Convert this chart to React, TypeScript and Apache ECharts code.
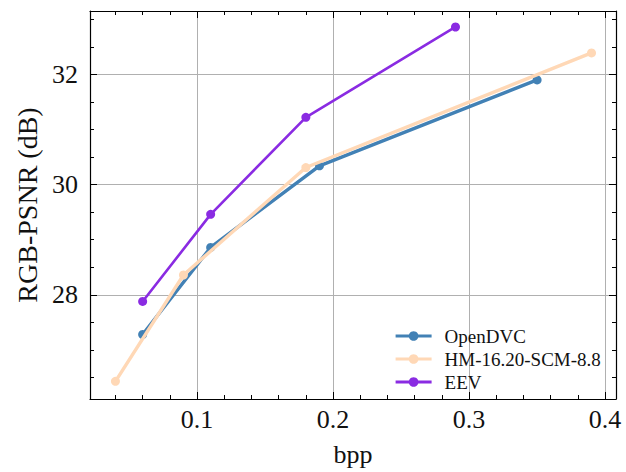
import React, { useEffect, useRef } from "react";
import * as echarts from "echarts";

const seriesNames = ["OpenDVC", "HM-16.20-SCM-8.8", "EEV"];
const bppOpenDVC = [0.06, 0.11, 0.19, 0.35];
const psnrOpenDVC = [27.28, 28.86, 30.34, 31.9];
const bppHM = [0.04, 0.09, 0.18, 0.39];
const psnrHM = [26.43, 28.36, 30.31, 32.39];
const bppEEV = [0.06, 0.11, 0.18, 0.29];
const psnrEEV = [27.88, 29.46, 31.22, 32.86];

const xMajorTicks = [0.1, 0.2, 0.3, 0.4];
const xMinorTicks = [0.04, 0.06, 0.08, 0.12, 0.14, 0.16, 0.18, 0.22, 0.24, 0.26, 0.28, 0.32, 0.34, 0.36, 0.38];
const yMajorTicks = [28, 30, 32];
const yMinorTicks = [26.5, 27, 27.5, 28.5, 29, 29.5, 30.5, 31, 31.5, 32.5, 33];

const X_MIN = 0.0213;
const X_MAX = 0.408;
const Y_MIN = 26.11;
const Y_MAX = 33.15;

const FONT = "Liberation Serif";
const colors = ["#4281b5", "#ffd8b6", "#8a2be2"];

function pair(xs: number[], ys: number[]) {
  return xs.map((x, i) => [x, ys[i]]);
}

export default function App() {
  const ref = useRef<HTMLDivElement>(null);
  useEffect(() => {
    if (!ref.current) return;
    const chart = echarts.init(ref.current, null, { renderer: "svg" });
    const lineAxis = { show: true, lineStyle: { color: "#000", width: 1.2 } };
    const mkX = (pos: "bottom" | "top", ticks: number[], len: number, main: boolean) => ({
      type: "value",
      position: pos,
      min: X_MIN,
      max: X_MAX,
      axisLine: main ? lineAxis : { show: false },
      axisTick: { show: true, inside: true, length: len, customValues: ticks, lineStyle: { color: "#000", width: 1 } },
      axisLabel: main && pos === "bottom"
        ? { show: true, customValues: xMajorTicks, fontFamily: FONT, fontSize: 26, color: "#111", margin: 7, formatter: (v: number) => String(v) }
        : { show: false },
      splitLine: main && pos === "bottom" ? { show: true, lineStyle: { color: "#b0b0b0", width: 1 } } : { show: false },
      name: main && pos === "bottom" ? "bpp" : "",
      nameLocation: "middle",
      nameGap: 42,
      nameTextStyle: { fontFamily: FONT, fontSize: 26, color: "#111" },
    });
    const mkY = (pos: "left" | "right", ticks: number[], len: number, main: boolean) => ({
      type: "value",
      position: pos,
      min: Y_MIN,
      max: Y_MAX,
      axisLine: main ? lineAxis : { show: false },
      axisTick: { show: true, inside: true, length: len, customValues: ticks, lineStyle: { color: "#000", width: 1 } },
      axisLabel: main && pos === "left"
        ? { show: true, customValues: yMajorTicks, fontFamily: FONT, fontSize: 26, color: "#111", margin: 12, formatter: (v: number) => String(v) }
        : { show: false },
      splitLine: main && pos === "left" ? { show: true, lineStyle: { color: "#b0b0b0", width: 1 } } : { show: false },
      name: main && pos === "left" ? "RGB-PSNR (dB)" : "",
      nameLocation: "middle",
      nameGap: 44,
      nameRotate: 90,
      nameTextStyle: { fontFamily: FONT, fontSize: 28, color: "#111" },
    });
    const mkSeries = (i: number, data: number[][], width: number) => ({
      name: seriesNames[i],
      type: "line",
      xAxisIndex: 0,
      yAxisIndex: 0,
      data,
      symbol: "circle",
      symbolSize: 9,
      lineStyle: { color: colors[i], width },
      itemStyle: { color: colors[i] },
      z: 2 + i,
    });
    chart.setOption({
      animation: false,
      backgroundColor: "#fff",
      grid: { left: 90, top: 11, right: 10, bottom: 71, containLabel: false },
      xAxis: [
        mkX("bottom", xMajorTicks, 7, true),
        mkX("bottom", xMinorTicks, 4, false),
        mkX("top", xMajorTicks, 7, true),
        mkX("top", xMinorTicks, 4, false),
      ],
      yAxis: [
        mkY("left", yMajorTicks, 7, true),
        mkY("left", yMinorTicks, 4, false),
        mkY("right", yMajorTicks, 7, true),
        mkY("right", yMinorTicks, 4, false),
      ],
      legend: {
        data: seriesNames,
        orient: "vertical",
        left: 389,
        top: 321,
        itemWidth: 36,
        itemHeight: 12,
        itemGap: 3,
        lineStyle: { width: 3.2 },
        textStyle: { fontFamily: FONT, fontSize: 19, color: "#111", lineHeight: 20, padding: [0, 0, 0, 8] },
      },
      series: [
        mkSeries(0, pair(bppOpenDVC, psnrOpenDVC), 3.4),
        mkSeries(1, pair(bppHM, psnrHM), 3.4),
        mkSeries(2, pair(bppEEV, psnrEEV), 2.6),
      ],
    });
    return () => chart.dispose();
  }, []);
  return <div ref={ref} style={{ width: 626, height: 472, position: "absolute", left: 0, top: 0 }} />;
}
